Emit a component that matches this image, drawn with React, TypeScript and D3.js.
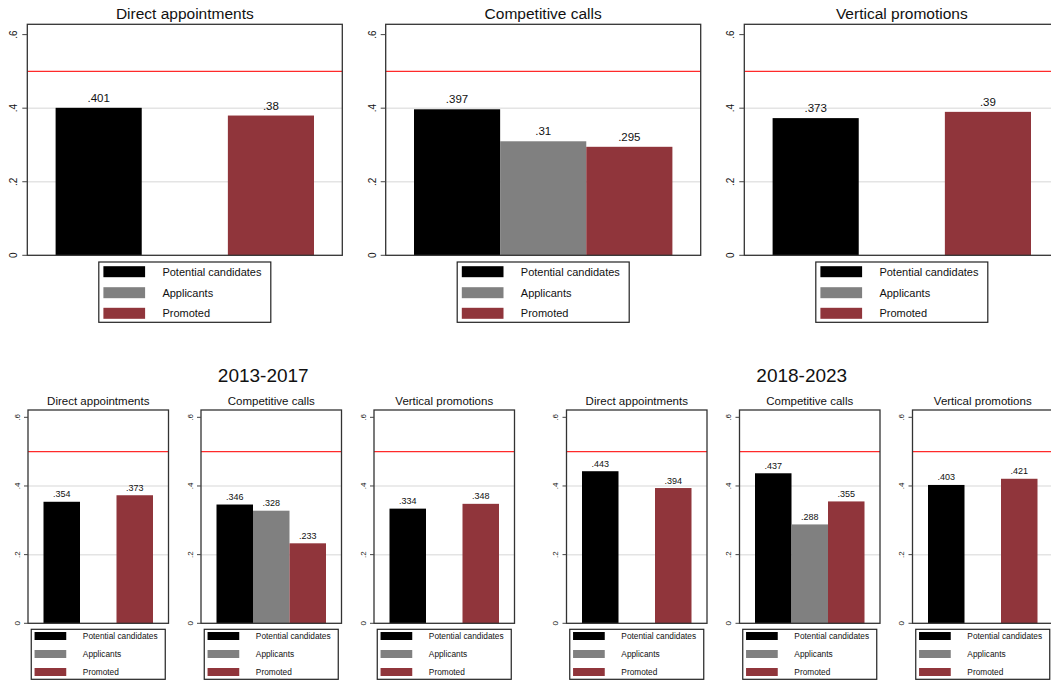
import React from "react";
import * as d3 from "d3";

const categories = ["Direct appointments", "Competitive calls", "Vertical promotions"];
const seriesNames = ["Potential candidates", "Applicants", "Promoted"];
const seriesColors = ["#000000", "#808080", "#90353b"];

// Overall period
const allPotential = [0.401, 0.397, 0.373];
const allApplicants: (number | null)[] = [null, 0.31, null];
const allPromoted = [0.38, 0.295, 0.39];

// 2013-2017
const p1Potential = [0.354, 0.346, 0.334];
const p1Applicants: (number | null)[] = [null, 0.328, null];
const p1Promoted = [0.373, 0.233, 0.348];

// 2018-2023
const p2Potential = [0.443, 0.437, 0.403];
const p2Applicants: (number | null)[] = [null, 0.288, null];
const p2Promoted = [0.394, 0.355, 0.421];

const periodTitles = ["2013-2017", "2018-2023"];
const yTicks = [0, 0.2, 0.4, 0.6];
const gridTicks = [0.2, 0.4];
const refLine = 0.5;

const FONT = "'Liberation Sans', Arial, Helvetica, sans-serif";

const fmt = (v: number) => (v === 0 ? "0" : String(v).replace(/^0/, ""));

type PanelProps = {
  title: string;
  values: (number | null)[];
  x0: number;
  x1: number;
  y0: number;
  y1: number;
  yMax: number;
  pad: number;
  titleSize: number;
  titleY: number;
  tickSize: number;
  tickLen: number;
  tickOffset: number;
  valueSize: number;
  valueGap: number;
  legend: {
    top: number;
    width: number;
    height: number;
    swX: number;
    swW: number;
    swH: number;
    rows: number[];
    textX: number;
    fontSize: number;
  };
};

function Panel(p: PanelProps) {
  const y = d3.scaleLinear().domain([0, p.yMax]).range([p.y1, p.y0]);
  const x = d3
    .scaleBand<number>()
    .domain([0, 1, 2])
    .range([p.x0 + p.pad, p.x1 - p.pad])
    .paddingInner(0)
    .paddingOuter(0);
  const cx = (p.x0 + p.x1) / 2;
  const lg = p.legend;
  const lgLeft = cx - lg.width / 2;
  return (
    <g>
      <text
        x={cx}
        y={p.titleY}
        textAnchor="middle"
        fontSize={p.titleSize}
        fill="#111"
        fontFamily={FONT}
      >
        {p.title}
      </text>
      {gridTicks.map((t) => (
        <line
          key={"g" + t}
          x1={p.x0}
          x2={p.x1}
          y1={y(t)}
          y2={y(t)}
          stroke="#e4e4e4"
          strokeWidth={1.5}
        />
      ))}
      {p.values.map((v, i) =>
        v == null ? null : (
          <g key={"b" + i}>
            <rect
              x={x(i)!}
              y={y(v)}
              width={x.bandwidth()}
              height={p.y1 - y(v)}
              fill={seriesColors[i]}
            />
            <text
              x={x(i)! + x.bandwidth() / 2}
              y={y(v) - p.valueGap}
              textAnchor="middle"
              fontSize={p.valueSize}
              fill="#111"
              fontFamily={FONT}
            >
              {fmt(v)}
            </text>
          </g>
        )
      )}
      <line
        x1={p.x0}
        x2={p.x1}
        y1={y(refLine)}
        y2={y(refLine)}
        stroke="#ff2a2a"
        strokeWidth={1.1}
      />
      <rect
        x={p.x0}
        y={p.y0}
        width={p.x1 - p.x0}
        height={p.y1 - p.y0}
        fill="none"
        stroke="#333"
        strokeWidth={1.3}
      />
      {yTicks.map((t) => (
        <g key={"t" + t}>
          <line
            x1={p.x0 - p.tickLen}
            x2={p.x0}
            y1={y(t)}
            y2={y(t)}
            stroke="#444"
            strokeWidth={1}
          />
          <text
            transform={`translate(${p.x0 - p.tickOffset},${y(t)}) rotate(-90)`}
            textAnchor="middle"
            fontSize={p.tickSize}
            fill="#111"
            fontFamily={FONT}
          >
            {fmt(t)}
          </text>
        </g>
      ))}
      <rect
        x={lgLeft}
        y={lg.top}
        width={lg.width}
        height={lg.height}
        fill="white"
        stroke="#222"
        strokeWidth={1.2}
      />
      {seriesNames.map((s, i) => (
        <g key={"l" + i}>
          <rect
            x={lgLeft + lg.swX}
            y={lg.top + lg.rows[i] - lg.swH / 2}
            width={lg.swW}
            height={lg.swH}
            fill={seriesColors[i]}
          />
          <text
            x={lgLeft + lg.textX}
            y={lg.top + lg.rows[i]}
            dominantBaseline="central"
            fontSize={lg.fontSize}
            fill="#111"
            fontFamily={FONT}
          >
            {s}
          </text>
        </g>
      ))}
    </g>
  );
}

export default function App() {
  const overall = categories.map((_, i) => [allPotential[i], allApplicants[i], allPromoted[i]]);
  const period1 = categories.map((_, i) => [p1Potential[i], p1Applicants[i], p1Promoted[i]]);
  const period2 = categories.map((_, i) => [p2Potential[i], p2Applicants[i], p2Promoted[i]]);

  const topLefts = [27.3, 385.7, 744.3];
  const topW = 315;
  const botLefts = [28, 201, 374];
  const groupStep = 538.5;
  const botW = 140.5;

  const topLegend = {
    top: 262,
    width: 172,
    height: 60.3,
    swX: 4.6,
    swW: 41.7,
    swH: 11,
    rows: [9.7, 30.7, 51.3],
    textX: 63.6,
    fontSize: 11,
  };
  const botLegend = {
    top: 629.3,
    width: 134,
    height: 50,
    swX: 3.3,
    swW: 31.7,
    swH: 8,
    rows: [6.7, 24.7, 42.7],
    textX: 51.6,
    fontSize: 8.3,
  };

  const topY0 = 24.3;
  const topY1 = 255.3;
  const botY0 = 410;
  const botY1 = 623.3;

  return (
    <svg
      width={1051}
      height={681}
      style={{ position: "fixed", left: 0, top: 0, background: "white" }}
    >
      <rect x={0} y={0} width={1051} height={681} fill="white" />
      {categories.map((c, i) => (
        <Panel
          key={"top" + i}
          title={c}
          values={overall[i]}
          x0={topLefts[i]}
          x1={topLefts[i] + topW}
          y0={topY0}
          y1={topY1}
          yMax={(topY1 - topY0) / 367.8}
          pad={28.3}
          titleSize={15.5}
          titleY={19}
          tickSize={10}
          tickLen={5}
          tickOffset={10}
          valueSize={11.5}
          valueGap={6}
          legend={topLegend}
        />
      ))}
      {[period1, period2].map((data, g) => {
        const gx = g * groupStep;
        const first = botLefts[0] + gx;
        const last = botLefts[2] + gx + botW;
        return (
          <g key={"grp" + g}>
            <text
              x={(first + last) / 2 - 8}
              y={381.5}
              textAnchor="middle"
              fontSize={19}
              fill="#111"
              fontFamily={FONT}
            >
              {periodTitles[g]}
            </text>
            {categories.map((c, i) => (
              <Panel
                key={"b" + g + i}
                title={c}
                values={data[i]}
                x0={botLefts[i] + gx}
                x1={botLefts[i] + gx + botW}
                y0={botY0}
                y1={botY1}
                yMax={(botY1 - botY0) / 343.3}
                pad={15.5}
                titleSize={11.5}
                titleY={405}
                tickSize={8}
                tickLen={4}
                tickOffset={8.5}
                valueSize={9}
                valueGap={4.5}
                legend={botLegend}
              />
            ))}
          </g>
        );
      })}
    </svg>
  );
}
